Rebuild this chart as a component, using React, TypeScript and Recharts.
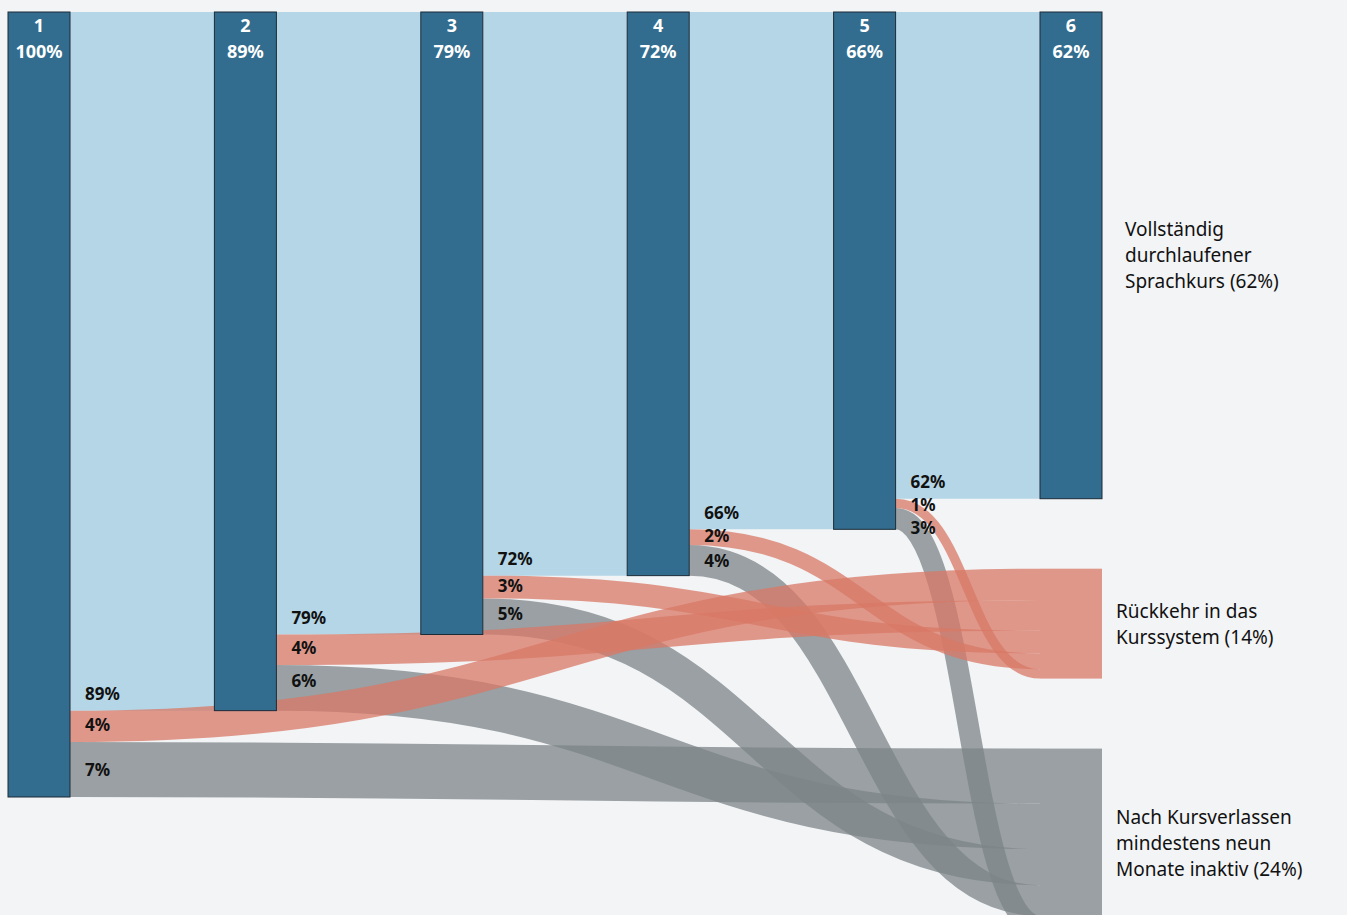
import React from "react";
import { Sankey } from "recharts";

// share of participants (in %) per course section
const stageNames = ["1", "2", "3", "4", "5", "6"];
const continued = [89.0, 79.3, 71.8, 65.9, 62.0];
const returned = [4.0, 3.9, 2.9, 2.0, 1.2];
const inactive = [7.0, 5.8, 4.6, 3.9, 2.7];

const completedLines = ["Vollständig", "durchlaufener", "Sprachkurs"];
const returnLines = ["Rückkehr in das", "Kurssystem"];
const inactiveLines = ["Nach Kursverlassen", "mindestens neun", "Monate inaktiv"];

const COLORS = {
  bg: "#f3f4f6",
  node: "#326d8f",
  nodeStroke: "#1c2b36",
  flow: "#b5d6e6",
  back: "#d87866",
  gone: "#7c8487",
  text: "#111111",
};

const FONT = "'Noto Sans', 'Open Sans', sans-serif";

const RETURN_IDX = stageNames.length;
const INACTIVE_IDX = stageNames.length + 1;

const nodes = [
  ...stageNames.map((name) => ({ name })),
  { name: returnLines.join(" ") },
  { name: inactiveLines.join(" ") },
];

const links = [
  ...continued.map((value, i) => ({ source: i, target: i + 1, value })),
  ...inactive.map((value, i) => ({ source: i, target: INACTIVE_IDX, value })),
  ...returned.map((value, i) => ({ source: i, target: RETURN_IDX, value })),
];

const pct = (v: number) => `${Math.round(v)}%`;

function MultiLine({ x, cy, lines }: { x: number; cy: number; lines: string[] }) {
  const lh = 26;
  const start = cy - ((lines.length - 1) * lh) / 2;
  return (
    <text x={x} fontFamily={FONT} fontSize={19} fill={COLORS.text} dominantBaseline="central">
      {lines.map((l, i) => (
        <tspan key={i} x={x} y={start + i * lh}>
          {l}
        </tspan>
      ))}
    </text>
  );
}

function FlowLink(props: any) {
  const { sourceX, targetX, sourceY, targetY, sourceControlX, targetControlX, linkWidth, payload } = props;
  const t = payload?.target?.name;
  let color = COLORS.flow;
  let opacity = 1;
  if (t === nodes[RETURN_IDX].name) {
    color = COLORS.back;
    opacity = 0.75;
  } else if (t === nodes[INACTIVE_IDX].name) {
    color = COLORS.gone;
    opacity = 0.75;
  }
  return (
    <path
      d={`M${sourceX},${sourceY} C${sourceControlX},${sourceY} ${targetControlX},${targetY} ${targetX},${targetY}`}
      fill="none"
      stroke={color}
      strokeOpacity={opacity}
      strokeWidth={linkWidth}
    />
  );
}

function StageNode(props: any) {
  const { x, y, width, height, index, payload } = props;
  const value = payload.value;

  if (index === RETURN_IDX || index === INACTIVE_IDX) {
    const isBack = index === RETURN_IDX;
    const lines = (isBack ? returnLines : inactiveLines).slice();
    lines[lines.length - 1] += ` (${pct(value)})`;
    return (
      <g>
        <rect
          x={x}
          y={y}
          width={width}
          height={height}
          fill={isBack ? COLORS.back : COLORS.gone}
          fillOpacity={0.75}
        />
        <MultiLine x={x + width + 14} cy={y + height / 2} lines={lines} />
      </g>
    );
  }

  const ratio = height / value;
  const labelX = x + width + 15;
  const bold = { fontFamily: FONT, fontSize: 18, fontWeight: 700 };
  const small = { fontFamily: FONT, fontSize: 17, fontWeight: 700 };
  const gap = 23;
  let outLabels = null;
  if (index < continued.length) {
    const blueBottom = y + continued[index] * ratio;
    const blueY = blueBottom - 17;
    const redTop = blueBottom;
    const redY = Math.max(redTop + (returned[index] * ratio) / 2 - 2, blueY + gap);
    const grayTop = redTop + returned[index] * ratio;
    const grayH = inactive[index] * ratio;
    const grayY = Math.max(redY + gap, grayH > 50 ? grayTop + grayH / 2 : grayTop + 15);
    outLabels = (
      <g>
        <text x={labelX} y={blueY} dominantBaseline="central" fill={COLORS.text} {...small}>
          {pct(continued[index])}
        </text>
        <text x={labelX} y={redY} dominantBaseline="central" fill={COLORS.text} {...small}>
          {pct(returned[index])}
        </text>
        <text x={labelX} y={grayY} dominantBaseline="central" fill={COLORS.text} {...small}>
          {pct(inactive[index])}
        </text>
      </g>
    );
  }

  let finalLabel = null;
  if (index === stageNames.length - 1) {
    const lines = completedLines.slice();
    lines[lines.length - 1] += ` (${pct(value)})`;
    finalLabel = <MultiLine x={x + width + 23} cy={y + height / 2} lines={lines} />;
  }

  return (
    <g>
      <rect x={x} y={y} width={width} height={height} fill={COLORS.node} stroke={COLORS.nodeStroke} strokeWidth={1} />
      <text x={x + width / 2} y={y + 13} textAnchor="middle" dominantBaseline="central" fill="#ffffff" {...bold}>
        {payload.name}
      </text>
      <text x={x + width / 2} y={y + 39} textAnchor="middle" dominantBaseline="central" fill="#ffffff" {...bold}>
        {pct(value)}
      </text>
      {outLabels}
      {finalLabel}
    </g>
  );
}

export default function App() {
  return (
    <div style={{ position: "fixed", inset: 0, background: COLORS.bg, overflow: "hidden" }}>
      <Sankey
        width={1347}
        height={940}
        data={{ nodes, links }}
        margin={{ top: 12, left: 8, right: 245, bottom: 3 }}
        nodeWidth={62}
        nodePadding={70}
        iterations={0}
        linkCurvature={0.5}
        node={<StageNode />}
        link={<FlowLink />}
      />
    </div>
  );
}
